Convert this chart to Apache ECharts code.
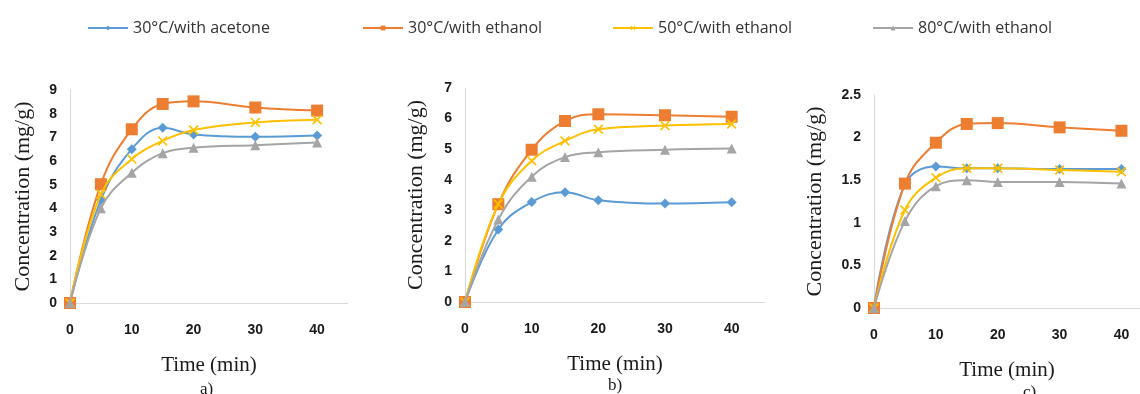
<!DOCTYPE html>
<html>
<head>
    <meta charset="UTF-8">
    <title>Concentration vs time</title>
    <script src="https://cdnjs.cloudflare.com/ajax/libs/echarts/6.0.0/echarts.min.js"></script>
    <style>
        body { margin: 0; background: #ffffff; }
        #chart { width: 1140px; height: 394px; }
    </style>
</head>
<body>
    <div id="chart"></div>
    <script>
        // time points (min)
        const timeMin = [0, 5, 10, 15, 20, 30, 40];
        const seriesNames = ['30°C/with acetone', '30°C/with ethanol', '50°C/with ethanol', '80°C/with ethanol'];

        // panel a)
        const aAcetone30 = [0, 4.35, 6.5, 7.4, 7.12, 7.02, 7.08];
        const aEthanol30 = [0, 5.02, 7.34, 8.41, 8.52, 8.26, 8.13];
        const aEthanol50 = [0, 4.6, 6.08, 6.85, 7.31, 7.63, 7.74];
        const aEthanol80 = [0, 4.0, 5.5, 6.33, 6.56, 6.67, 6.78];

        // panel b)
        const bAcetone30 = [0, 2.37, 3.27, 3.59, 3.33, 3.22, 3.26];
        const bEthanol30 = [0, 3.2, 4.98, 5.92, 6.14, 6.11, 6.06];
        const bEthanol50 = [0, 3.2, 4.62, 5.27, 5.65, 5.77, 5.82];
        const bEthanol80 = [0, 2.7, 4.1, 4.74, 4.9, 4.98, 5.02];

        // panel c)
        const cAcetone30 = [0, 1.45, 1.66, 1.64, 1.64, 1.63, 1.63];
        const cEthanol30 = [0, 1.46, 1.94, 2.16, 2.17, 2.12, 2.08];
        const cEthanol50 = [0, 1.15, 1.53, 1.64, 1.64, 1.62, 1.6];
        const cEthanol80 = [0, 1.02, 1.43, 1.5, 1.48, 1.48, 1.46];

        const colors = ['#5B9BD5', '#ED7D31', '#FFC000', '#A5A5A5'];
        const crossPath = 'path://M0,1.2 L1.2,0 L5,3.8 L8.8,0 L10,1.2 L6.2,5 L10,8.8 L8.8,10 L5,6.2 L1.2,10 L0,8.8 L3.8,5 Z';
        const symbols = ['diamond', 'rect', crossPath, 'triangle'];
        const symbolSizes = [10, 12, 10, 10];

        const chart = echarts.init(document.getElementById('chart'));

        const grids = [
            { left: 70, top: 90, width: 278, height: 213 },
            { left: 465, top: 88, width: 300, height: 214 },
            { left: 874, top: 95, width: 266, height: 213 }
        ];
        const xMax = [45, 45, 43];
        const yMax = [9, 7, 2.5];
        const yStep = [1, 1, 0.5];
        const yNameGap = [36, 38, 48];
        const panelData = [
            [aAcetone30, aEthanol30, aEthanol50, aEthanol80],
            [bAcetone30, bEthanol30, bEthanol50, bEthanol80],
            [cAcetone30, cEthanol30, cEthanol50, cEthanol80]
        ];

        const tickFont = { fontFamily: 'Liberation Sans', fontWeight: 'bold', fontSize: 14, color: '#1a1a1a' };
        const xNameFont = { fontFamily: 'Liberation Serif', fontSize: 21, color: '#1a1a1a' };
        const yNameFont = { fontFamily: 'Liberation Serif', fontSize: 22, color: '#1a1a1a' };

        const xAxes = grids.map((g, i) => ({
            gridIndex: i,
            type: 'value',
            min: 0,
            max: xMax[i],
            interval: 10,
            name: 'Time (min)',
            nameLocation: 'middle',
            nameGap: 52,
            nameTextStyle: xNameFont,
            axisLine: { lineStyle: { color: '#d9d9d9', width: 1 } },
            axisTick: { show: false },
            splitLine: { show: false },
            axisLabel: Object.assign({ margin: 20, showMaxLabel: false }, tickFont)
        }));

        const yAxes = grids.map((g, i) => ({
            gridIndex: i,
            type: 'value',
            min: 0,
            max: yMax[i],
            interval: yStep[i],
            name: 'Concentration (mg/g)',
            nameLocation: 'middle',
            nameGap: yNameGap[i],
            nameTextStyle: yNameFont,
            axisLine: { show: true, lineStyle: { color: '#d9d9d9', width: 1 } },
            axisTick: { show: false },
            splitLine: { show: false },
            axisLabel: Object.assign({ margin: 13 }, tickFont)
        }));

        const series = [];
        panelData.forEach((sets, p) => {
            sets.forEach((vals, s) => {
                series.push({
                    name: seriesNames[s],
                    type: 'line',
                    xAxisIndex: p,
                    yAxisIndex: p,
                    smooth: 0.4,
                    data: timeMin.map((t, k) => [t, vals[k]]),
                    symbol: symbols[s],
                    symbolSize: symbolSizes[s],
                    lineStyle: { color: colors[s], width: 2 },
                    itemStyle: { color: colors[s] },
                    z: 2 + s
                });
            });
        });

        const legendLeft = [82, 357, 607, 867];
        const legends = seriesNames.map((n, i) => ({
            data: [n],
            left: legendLeft[i],
            top: 15,
            itemWidth: 40,
            itemHeight: 6,
            textStyle: { fontFamily: 'Open Sans', fontSize: 16, color: '#333' }
        }));

        const captionFont = { fontFamily: 'Liberation Serif', fontSize: 17, fontWeight: 'normal', color: '#1a1a1a' };
        const titles = [
            { text: 'a)', left: 195, top: 376, textStyle: captionFont },
            { text: 'b)', left: 603, top: 372, textStyle: captionFont },
            { text: 'c)', left: 1018, top: 379, textStyle: captionFont }
        ];

        chart.setOption({
            animation: false,
            color: colors,
            title: titles,
            legend: legends,
            grid: grids,
            xAxis: xAxes,
            yAxis: yAxes,
            series: series
        });
    </script>
</body>
</html>
